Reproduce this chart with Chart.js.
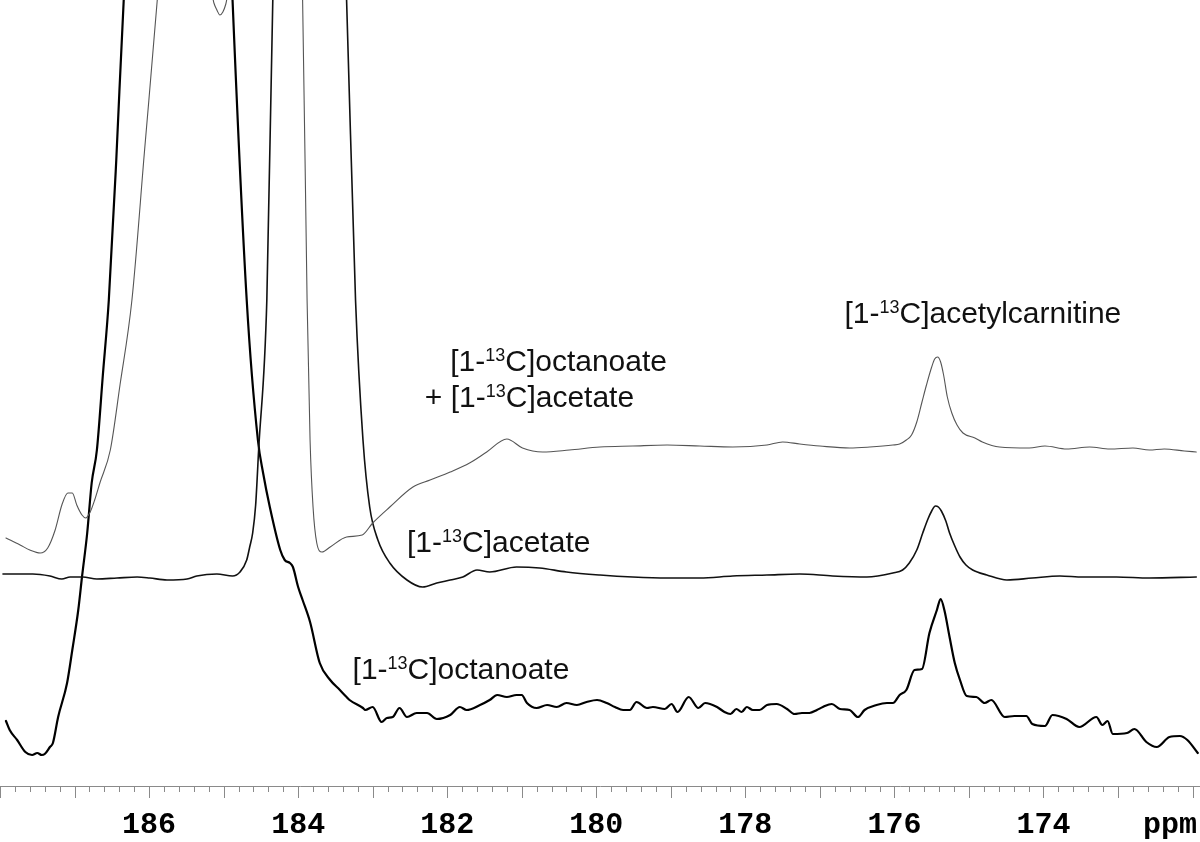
<!DOCTYPE html>
<html>
<head>
<meta charset="utf-8">
<title>13C spectra</title>
<script src="https://cdn.jsdelivr.net/npm/chart.js@4.4.0/dist/chart.umd.min.js"></script>
<style>
  html, body { margin: 0; padding: 0; background: #fff; }
  canvas { display: block; }
</style>
</head>
<body>
<canvas id="nmr-chart" width="1200" height="842"></canvas>
<script>
// top trace: [1-13C]octanoate + [1-13C]acetate (ppm / intensity)
var mixPpm = [187.92, 187.73, 187.60, 187.46, 187.36, 187.26, 187.17, 187.09, 187.03, 186.97,
  186.90, 186.85, 186.79, 186.73, 186.66, 186.52, 186.39, 186.23, 186.06, 185.89,
  185.87, 185.17, 185.13, 185.09, 185.05, 185.01, 184.97, 184.93, 183.95, 183.94,
  183.88, 183.84, 183.80, 183.75, 183.68, 183.57, 183.35, 183.14, 183.00, 182.77,
  182.46, 182.23, 181.96, 181.70, 181.47, 181.20, 180.99, 180.72, 180.36, 179.95,
  179.51, 179.05, 178.61, 178.17, 177.71, 177.50, 177.27, 177.00, 176.60, 176.33,
  176.02, 175.93, 175.84, 175.77, 175.70, 175.63, 175.57, 175.50, 175.46, 175.42,
  175.38, 175.34, 175.29, 175.23, 175.16, 175.08, 174.92, 174.82, 174.59, 174.19,
  173.98, 173.69, 173.38, 173.11, 172.80, 172.58, 172.38, 172.11, 171.95];
var mixInt = [248, 241, 236, 233, 238, 256, 281, 293, 293, 281,
  271, 268, 274, 286, 303, 336, 401, 486, 636, 786,
  806, 796, 783, 776, 771, 774, 782, 796, 806, 786,
  486, 346, 279, 243, 234, 239, 249, 251, 263, 279,
  299, 306, 314, 323, 334, 347, 338, 334, 336, 339,
  340, 341, 340, 339, 341, 344, 342, 340, 338, 339,
  341, 342, 346, 351, 364, 384, 401, 419, 427, 429,
  424, 411, 389, 373, 361, 353, 348, 344, 339, 338,
  340, 337, 339, 337, 338, 336, 337, 335, 334];

// middle trace: [1-13C]acetate
var acePpm = [187.96, 187.73, 187.56, 187.33, 187.17, 187.06, 186.89, 186.70, 186.43, 186.16,
  185.99, 185.76, 185.49, 185.36, 185.09, 184.88, 184.78, 184.69, 184.65, 184.61,
  184.57, 184.53, 184.42, 184.34, 184.33, 183.36, 183.35, 183.23, 183.13, 183.04,
  182.93, 182.77, 182.54, 182.33, 182.14, 181.96, 181.79, 181.60, 181.43, 181.07,
  180.76, 180.40, 179.95, 179.51, 179.05, 178.61, 178.17, 177.71, 177.27, 176.83,
  176.37, 176.02, 175.89, 175.80, 175.70, 175.62, 175.55, 175.50, 175.45, 175.41,
  175.37, 175.31, 175.26, 175.19, 175.12, 175.04, 174.95, 174.76, 174.49, 174.15,
  173.78, 173.47, 173.02, 172.58, 171.95];
var aceInt = [212, 212, 212, 210, 207, 209, 209, 207, 208, 209,
  208, 206, 207, 210, 212, 210, 214, 226, 239, 253,
  281, 336, 486, 786, 806, 806, 786, 486, 346, 279,
  246, 223, 206, 199, 203, 206, 209, 216, 214, 219,
  218, 214, 211, 209, 208, 208, 210, 211, 212, 210,
  209, 213, 216, 223, 236, 253, 267, 275, 280, 279,
  275, 265, 253, 240, 229, 221, 216, 211, 206, 208,
  210, 209, 209, 208, 209];

// bottom trace: [1-13C]octanoate
var octPpm = [187.92, 187.87, 187.77, 187.66, 187.57, 187.50, 187.44, 187.40, 187.33, 187.29,
  187.22, 187.10, 187.03, 186.95, 186.90, 186.83, 186.77, 186.70, 186.62, 186.54,
  186.44, 186.34, 186.32, 184.89, 184.88, 184.69, 184.54, 184.47, 184.38, 184.24,
  184.18, 184.11, 184.07, 184.00, 183.94, 183.84, 183.71, 183.57, 183.44, 183.35,
  183.31, 183.13, 183.10, 183.00, 182.88, 182.81, 182.73, 182.64, 182.54, 182.41,
  182.27, 182.14, 181.96, 181.83, 181.74, 181.56, 181.43, 181.33, 181.20, 181.07,
  181.00, 180.93, 180.80, 180.66, 180.53, 180.40, 180.26, 180.13, 179.99, 179.86,
  179.75, 179.64, 179.55, 179.46, 179.32, 179.24, 179.08, 178.99, 178.91, 178.76,
  178.63, 178.54, 178.38, 178.28, 178.20, 178.12, 178.05, 177.98, 177.90, 177.81,
  177.71, 177.58, 177.44, 177.34, 177.24, 177.14, 177.04, 176.96, 176.84, 176.73,
  176.60, 176.49, 176.40, 176.24, 176.10, 176.02, 175.93, 175.84, 175.73, 175.63,
  175.53, 175.43, 175.38, 175.33, 175.26, 175.19, 175.12, 175.03, 174.90, 174.79,
  174.70, 174.52, 174.39, 174.23, 174.15, 173.98, 173.88, 173.69, 173.52, 173.29,
  173.21, 173.14, 173.07, 172.88, 172.78, 172.62, 172.48, 172.31, 172.17, 172.07, 171.93];
var octInt = [65, 56, 46, 34, 31, 33, 31, 32, 39, 43,
  69, 103, 136, 176, 209, 253, 303, 336, 411, 486,
  626, 786, 806, 806, 786, 486, 346, 313, 279, 236,
  226, 223, 219, 199, 186, 164, 123, 106, 96, 89,
  86, 78, 76, 79, 64, 68, 69, 78, 69, 73,
  73, 67, 71, 79, 76, 81, 86, 91, 89, 91,
  91, 83, 78, 81, 79, 83, 81, 84, 86, 83,
  79, 76, 76, 84, 78, 79, 77, 82, 74, 89,
  78, 83, 79, 74, 72, 77, 74, 79, 76, 76,
  81, 82, 77, 72, 73, 73, 76, 79, 82, 77,
  76, 69, 76, 81, 83, 83, 91, 96, 116, 117,
  153, 176, 187, 176, 149, 123, 106, 90, 89, 83,
  86, 69, 70, 70, 62, 60, 71, 67, 59, 69,
  61, 65, 52, 53, 57, 44, 39, 49, 50, 46, 33];

// axis labels
var majorTicks = [186, 184, 182, 180, 178, 176, 174];

// peak names (anchored in ppm / intensity)
var peakLabels = [
  { ppm: 176.67, y: 463, pre: '[1-', sup: '13', post: 'C]acetylcarnitine' },
  { ppm: 181.96, y: 415, pre: '[1-', sup: '13', post: 'C]octanoate' },
  { ppm: 182.30, y: 379, pre: '+ [1-', sup: '13', post: 'C]acetate' },
  { ppm: 182.54, y: 234, pre: '[1-', sup: '13', post: 'C]acetate' },
  { ppm: 183.27, y: 107, pre: '[1-', sup: '13', post: 'C]octanoate' }
];

function toPoints(xs, ys) {
  return xs.map(function(x, i) { return { x: x, y: ys[i] }; });
}

function isMajor(v) {
  return Math.abs(v - Math.round(v)) < 1e-6;
}

var textFont = '"Liberation Sans", Arial, sans-serif';
var monoFont = '"Liberation Mono", "DejaVu Sans Mono", monospace';

// peak labels, tick marks (long at whole ppm) and unit
var labelPlugin = {
  id: 'peakLabels',
  afterDatasetsDraw: function(chart) {
    var c = chart.ctx;
    var xs = chart.scales.x, ys = chart.scales.y;
    c.save();
    c.fillStyle = '#111';
    c.textBaseline = 'alphabetic';
    c.textAlign = 'left';
    peakLabels.forEach(function(l) {
      var x = xs.getPixelForValue(l.ppm);
      var y = ys.getPixelForValue(l.y);
      c.font = '30px ' + textFont;
      c.fillText(l.pre, x, y);
      x += c.measureText(l.pre).width;
      c.font = '18px ' + textFont;
      c.fillText(l.sup, x, y - 10);
      x += c.measureText(l.sup).width;
      c.font = '30px ' + textFont;
      c.fillText(l.post, x, y);
    });

    c.strokeStyle = '#8a8a8a';
    c.lineWidth = 1;
    xs.ticks.forEach(function(t) {
      var px = Math.round(xs.getPixelForValue(t.value)) + 0.5;
      var len = isMajor(t.value) ? 12 : 6;
      c.beginPath();
      c.moveTo(px, xs.top);
      c.lineTo(px, xs.top + len);
      c.stroke();
    });

    c.font = 'bold 30px ' + monoFont;
    c.textAlign = 'right';
    c.textBaseline = 'middle';
    c.fillStyle = '#000';
    c.fillText('ppm', chart.width - 3, xs.top + 39);
    c.restore();
  }
};

var ctx = document.getElementById('nmr-chart').getContext('2d');
var nmrChart = new Chart(ctx, {
  type: 'line',
  data: {
    datasets: [{
      label: 'octanoate + acetate',
      data: toPoints(mixPpm, mixInt),
      borderColor: '#555',
      borderWidth: 1.1
    }, {
      label: 'acetate',
      data: toPoints(acePpm, aceInt),
      borderColor: '#111',
      borderWidth: 1.6
    }, {
      label: 'octanoate',
      data: toPoints(octPpm, octInt),
      borderColor: '#000',
      borderWidth: 2.2
    }]
  },
  options: {
    responsive: false,
    animation: false,
    devicePixelRatio: 1,
    layout: { padding: 0 },
    elements: {
      point: { radius: 0 },
      line: { cubicInterpolationMode: 'monotone', borderJoinStyle: 'round', borderCapStyle: 'round' }
    },
    plugins: {
      legend: { display: false },
      tooltip: { enabled: false }
    },
    scales: {
      x: {
        type: 'linear',
        reverse: true,
        min: 171.9,
        max: 188,
        afterBuildTicks: function(scale) {
          var t = [];
          for (var i = 0; i <= 80; i++) {
            t.push({ value: Math.round((172 + i * 0.2) * 10) / 10 });
          }
          scale.ticks = t;
        },
        afterFit: function(scale) {
          scale.height = 56;
        },
        border: { display: true, color: '#8a8a8a', width: 1 },
        grid: {
          drawOnChartArea: false,
          drawTicks: true,
          tickLength: 12,
          tickColor: 'rgba(0,0,0,0)'
        },
        ticks: {
          autoSkip: false,
          maxRotation: 0,
          minRotation: 0,
          padding: 9,
          color: '#000',
          font: { family: monoFont, size: 30, weight: 'bold' },
          callback: function(v) {
            var r = Math.round(v);
            return (isMajor(v) && majorTicks.indexOf(r) >= 0) ? String(r) : '';
          }
        }
      },
      y: {
        display: false,
        min: 0,
        max: 786
      }
    }
  },
  plugins: [labelPlugin]
});
</script>
</body>
</html>
